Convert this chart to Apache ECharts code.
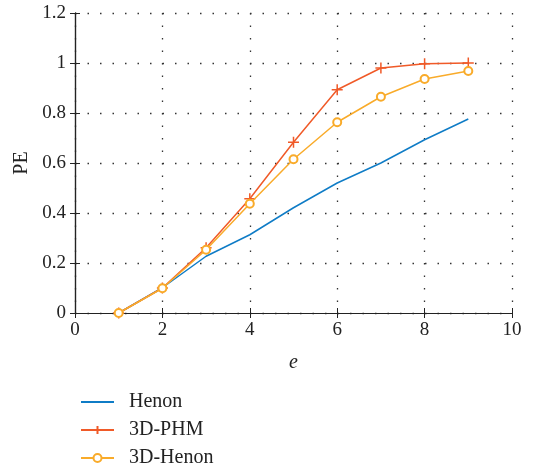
<!DOCTYPE html>
<html>
<head>
<meta charset="utf-8">
<script src="https://cdn.jsdelivr.net/npm/echarts@6/dist/echarts.min.js"></script>
<style>
  html, body { margin: 0; padding: 0; background: #fff; }
  #main { width: 552px; height: 469px; }
</style>
</head>
<body>
<div id="main"></div>
<script>
// embedding dimension e
var eValues = [1, 2, 3, 4, 5, 6, 7, 8, 9];
var henon = [0, 0.101, 0.227, 0.313, 0.421, 0.52, 0.6, 0.693, 0.776];
var phm3d = [0, 0.1, 0.261, 0.457, 0.683, 0.893, 0.98, 0.997, 1.0];
var henon3d = [0, 0.099, 0.253, 0.437, 0.615, 0.763, 0.865, 0.936, 0.968];
var seriesNames = ['Henon', '3D-PHM', '3D-Henon'];
var colors = ['#0f7cc6', '#f05a28', '#f9ab2a'];

var font = 'Liberation Serif';
var plusPath = 'path://M0,5L10,5M5,0L5,10';

function pairs(vals) {
  var out = [];
  for (var i = 0; i < vals.length; i++) {
    out.push([eValues[i], vals[i]]);
  }
  return out;
}

var dotted = { show: true, lineStyle: { color: '#333', width: 1.3, type: [1.5, 11] } };

var chart = echarts.init(document.getElementById('main'), null, { renderer: 'canvas' });
var option = {
  animation: false,
  backgroundColor: '#fff',
  grid: { left: 75, right: 40, top: 13, bottom: 156, containLabel: false },
  legend: {
    orient: 'vertical',
    left: 80,
    top: 392,
    padding: 0,
    itemWidth: 33,
    itemHeight: 10,
    itemGap: 8,
    data: [
      { name: seriesNames[0], itemStyle: { opacity: 0 } },
      seriesNames[1],
      seriesNames[2]
    ],
    textStyle: { fontFamily: font, fontSize: 20, color: '#222', lineHeight: 18, padding: [0, 0, 0, 10] }
  },
  xAxis: [{
    type: 'value',
    min: 0, max: 10, interval: 2,
    name: 'e',
    nameLocation: 'middle',
    nameGap: 40,
    nameTextStyle: { fontFamily: font, fontStyle: 'italic', fontSize: 20, color: '#222' },
    axisLine: { show: true, lineStyle: { color: '#222', width: 1.2 } },
    axisTick: { show: true, inside: true, length: 5, lineStyle: { color: '#222' } },
    axisLabel: { fontFamily: font, fontSize: 19, color: '#222', margin: 8 },
    splitLine: dotted
  }, {
    type: 'value',
    position: 'top',
    min: 0, max: 10, interval: 2,
    axisLine: { show: true, lineStyle: { color: '#222', width: 1.2 } },
    axisTick: { show: true, inside: true, length: 5, lineStyle: { color: '#222' } },
    axisLabel: { show: false },
    splitLine: { show: false }
  }],
  yAxis: [{
    type: 'value',
    min: 0, max: 1.2, interval: 0.2,
    name: 'PE',
    nameLocation: 'middle',
    nameGap: 43,
    nameTextStyle: { fontFamily: font, fontSize: 20, color: '#222' },
    axisLine: { show: true, lineStyle: { color: '#222', width: 1.2 } },
    axisTick: { show: true, inside: true, length: 5, lineStyle: { color: '#222' } },
    axisLabel: { fontFamily: font, fontSize: 19, color: '#222', margin: 9 },
    splitLine: dotted
  }, {
    type: 'value',
    position: 'right',
    min: 0, max: 1.2, interval: 0.2,
    axisLine: { show: true, lineStyle: { color: '#222', width: 1.2 } },
    axisTick: { show: true, inside: true, length: 5, lineStyle: { color: '#222' } },
    axisLabel: { show: false },
    splitLine: { show: false }
  }],
  series: [{
    name: seriesNames[0],
    type: 'line',
    data: pairs(henon),
    symbol: 'none',
    itemStyle: { color: colors[0] },
    lineStyle: { width: 1.5, color: colors[0] },
    z: 2
  }, {
    name: seriesNames[1],
    type: 'line',
    data: pairs(phm3d),
    symbol: plusPath,
    symbolSize: 11,
    showAllSymbol: true,
    itemStyle: { color: colors[1], borderColor: colors[1], borderWidth: 1.5 },
    lineStyle: { width: 1.5, color: colors[1] },
    z: 3
  }, {
    name: seriesNames[2],
    type: 'line',
    data: pairs(henon3d),
    symbol: 'emptyCircle',
    symbolSize: 8,
    showAllSymbol: true,
    itemStyle: { color: colors[2], borderColor: colors[2], borderWidth: 1.3 },
    lineStyle: { width: 1.5, color: colors[2] },
    z: 4
  }]
};
chart.setOption(option);
</script>
</body>
</html>
